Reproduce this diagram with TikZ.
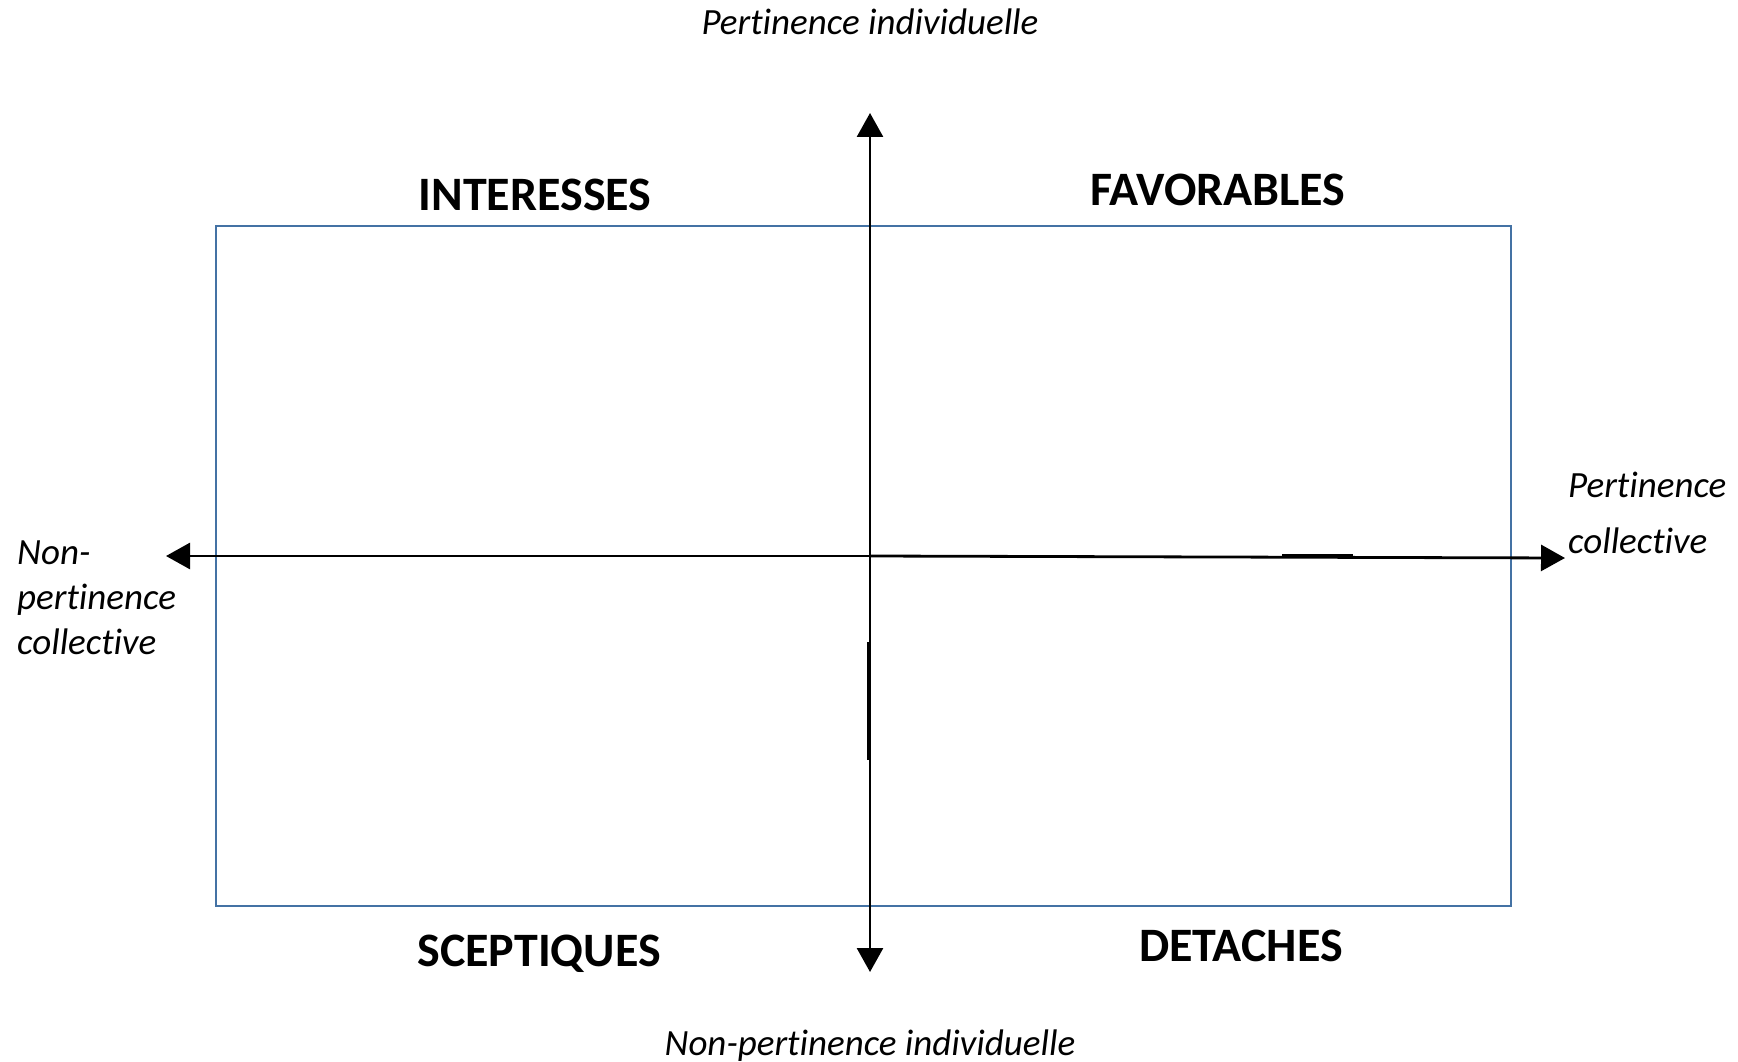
\documentclass[tikz,border=0pt]{standalone}
\usepackage{fontspec}
\setmainfont{Carlito}[Ligatures={NoCommon}]
\usetikzlibrary{arrows.meta}
\definecolor{framebl}{RGB}{68,114,164}
\begin{document}
\begin{tikzpicture}[x=1pt,y=-1pt,
  axis/.style={line width=2.8pt,-{Triangle[length=24pt,width=26pt]}},
  frame/.style={draw=framebl,line width=2.2pt},
  quad/.style={font=\bfseries\fontsize{48}{54}\selectfont,anchor=base,inner sep=0pt},
  pole/.style={font=\itshape\fontsize{37}{42}\selectfont,anchor=base,inner sep=0pt}]
\useasboundingbox[fill=white] (0,0) rectangle (1738,1062);

% quadrant frame
\draw[frame] (216,226) rectangle (1511,906);

% axis end points
\coordinate (top) at (870,113);
\coordinate (bot) at (870,972);
\coordinate (lft) at (166,556);
\coordinate (rgt) at (1565,558);
\coordinate (ctr) at (870,556);

% axes
\draw[axis] (ctr) -- (top);
\draw[axis] (ctr) -- (bot);
\draw[axis] (ctr) -- (lft);
\draw[axis] (ctr) -- (rgt);
% small heavier strokes along the axes
\coordinate (hA) at (1282,556);
\coordinate (hB) at (1353,556);
\draw[line width=3.2pt] (hA) -- (hB);
\coordinate (vA) at (868.5,642);
\coordinate (vB) at (868.5,760);
\draw[line width=2.8pt] (vA) -- (vB);

% quadrant labels
\node[quad] (inter) at (535,211) {INTERESSES};
\node[quad] (favor) at (1218,205) {FAVORABLES};
\node[quad] (scept) at (539,966) {SCEPTIQUES};
\node[quad] (detach) at (1241,961) {DETACHES};

% pole labels
\node[pole] (pind) at (870,35) {Pertinence individuelle};
\node[pole] (npind) at (870,1055) {Non-pertinence individuelle};
\node[pole,anchor=base west] (npc1) at (17,564) {Non-};
\node[pole,anchor=base west] (npc2) at (17,609) {pertinence};
\node[pole,anchor=base west] (npc3) at (17,654) {collective};
\node[pole,anchor=base west] (pc1) at (1568,497) {Pertinence};
\node[pole,anchor=base west] (pc2) at (1568,553) {collective};
\end{tikzpicture}
\end{document}
